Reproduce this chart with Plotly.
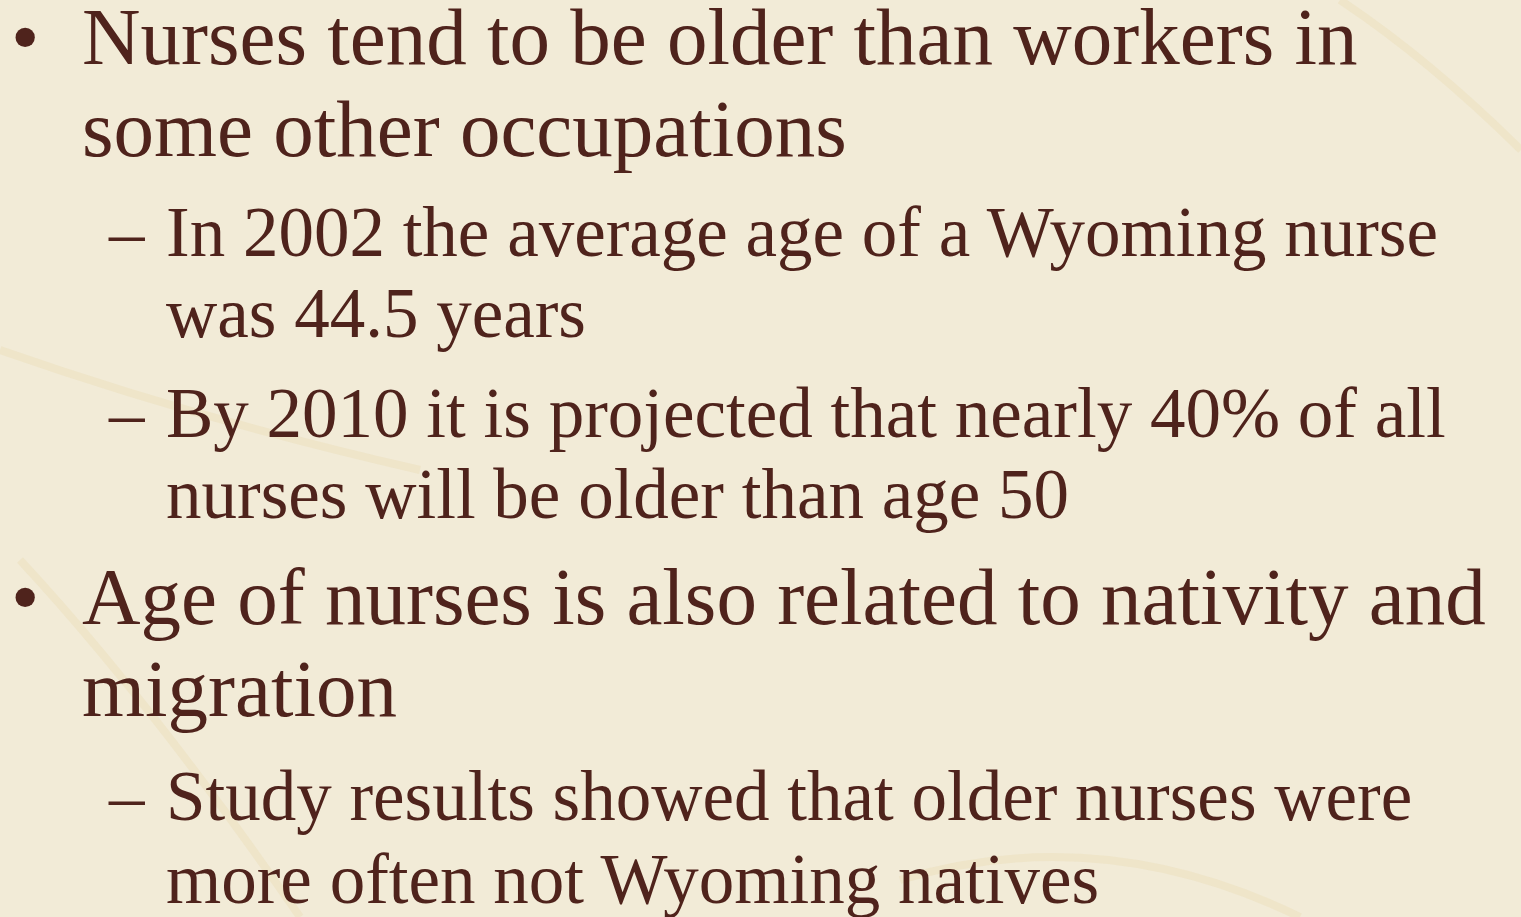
import plotly.graph_objects as go

# Slide content
levels = [1, 1, 2, 2, 2, 2, 1, 1, 2, 2]
lines = [
    "Nurses tend to be older than workers in",
    "some other occupations",
    "In 2002 the average age of a Wyoming nurse",
    "was 44.5 years",
    "By 2010 it is projected that nearly 40% of all",
    "nurses will be older than age 50",
    "Age of nurses is also related to nativity and",
    "migration",
    "Study results showed that older nurses were",
    "more often not Wyoming natives",
]
starts = [True, False, True, False, True, False, True, False, True, False]
baselines = [65, 157, 256, 337, 437, 518, 625, 717, 820, 903]

W, H = 1521, 917
TEXT = "#4f231c"
BG = "#f2ebd7"
FONT = "Liberation Serif, Times New Roman, serif"
size = {1: 81, 2: 71}
text_x = {1: 80, 2: 164}
marker_x = {1: 9, 2: 106}
marker = {1: "•", 2: "–"}

fig = go.Figure()
fig.add_trace(go.Scatter(x=[0, W], y=[0, H], mode="markers", marker=dict(opacity=0), hoverinfo="skip", showlegend=False))

# faint marble streaks
streaks = [
    "M 1340 0 Q 1430 60 1521 150",
    "M 20 560 Q 150 700 300 917",
    "M 900 880 Q 1100 820 1300 917",
    "M 0 350 Q 200 420 420 470",
]
for p in streaks:
    fig.add_shape(type="path", path=p, line=dict(color="rgba(232,214,168,0.3)", width=8), layer="below")

for lvl, txt, st, b in zip(levels, lines, starts, baselines):
    s = size[lvl]
    yc = b - 0.34 * s
    fig.add_annotation(x=text_x[lvl], y=yc, text=txt, showarrow=False, xanchor="left", yanchor="middle",
                       font=dict(family=FONT, size=s, color=TEXT))
    if st:
        fig.add_annotation(x=marker_x[lvl], y=yc, text=marker[lvl], showarrow=False, xanchor="left", yanchor="middle",
                           font=dict(family=FONT, size=s, color=TEXT))

fig.update_xaxes(range=[0, W], visible=False, fixedrange=True)
fig.update_yaxes(range=[H, 0], visible=False, fixedrange=True)
fig.update_layout(width=W, height=H, margin=dict(l=0, r=0, t=0, b=0),
                  paper_bgcolor=BG, plot_bgcolor=BG, showlegend=False)
fig.write_html("out.html", config={"displayModeBar": False},
               post_script="document.body.style.margin='0';document.body.style.background='%s';" % BG)
